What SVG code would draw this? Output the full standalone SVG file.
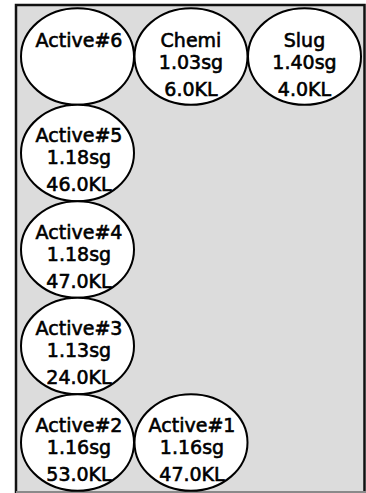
<svg xmlns="http://www.w3.org/2000/svg" width="366" height="493" viewBox="0 0 366 493">
<style>
.bg{fill:#dcdcdc;stroke:#111;stroke-width:2.5}
.n ellipse{fill:#fff;stroke:#000;stroke-width:2}
.n text{font-family:"DejaVu Sans",sans-serif;font-size:19px;fill:#000;stroke:#000;stroke-width:0.6;text-anchor:middle}
</style>
<rect class="bg" x="16" y="5" width="348.5" height="500"/>
<line x1="16" y1="492" x2="366" y2="492" stroke="#8a8a8a" stroke-width="2"/>
<g id="connectors"></g>
<g id="active6" class="n"><ellipse cx="77.5" cy="56.5" rx="56.5" ry="48.25"/><text x="79" y="47">Active#6</text></g>
<g id="chemi" class="n"><ellipse cx="191" cy="56.5" rx="56.5" ry="48.25"/><text x="191" y="47">Chemi</text><text x="191" y="69">1.03sg</text><text x="191" y="96">6.0KL</text></g>
<g id="slug" class="n"><ellipse cx="304.5" cy="56.5" rx="56.5" ry="48.25"/><text x="304.5" y="47">Slug</text><text x="304.5" y="69">1.40sg</text><text x="304.5" y="96">4.0KL</text></g>
<g id="active5" class="n"><ellipse cx="77.5" cy="153" rx="56.5" ry="48.25"/><text x="79" y="142">Active#5</text><text x="79" y="164">1.18sg</text><text x="79" y="191">46.0KL</text></g>
<g id="active4" class="n"><ellipse cx="77.5" cy="249.5" rx="56.5" ry="48.25"/><text x="79" y="238.5">Active#4</text><text x="79" y="260.5">1.18sg</text><text x="79" y="287.5">47.0KL</text></g>
<g id="active3" class="n"><ellipse cx="77.5" cy="346" rx="56.5" ry="48.25"/><text x="79" y="335">Active#3</text><text x="79" y="357">1.13sg</text><text x="79" y="384">24.0KL</text></g>
<g id="active2" class="n"><ellipse cx="77.5" cy="442.5" rx="56.5" ry="48.25"/><text x="79" y="431.5">Active#2</text><text x="79" y="453.5">1.16sg</text><text x="79" y="480.5">53.0KL</text></g>
<g id="active1" class="n"><ellipse cx="191" cy="442.5" rx="56.5" ry="48.25"/><text x="192" y="431.5">Active#1</text><text x="192" y="453.5">1.16sg</text><text x="192" y="480.5">47.0KL</text></g>
</svg>
